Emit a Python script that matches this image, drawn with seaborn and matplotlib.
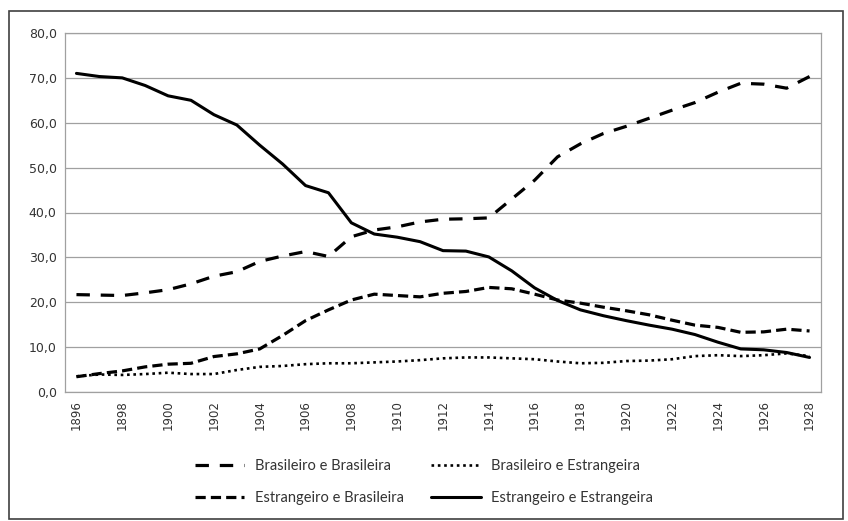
import pandas as pd
import seaborn as sns
import matplotlib.pyplot as plt
from matplotlib.patches import Rectangle

# Years and series values (percent)
years = list(range(1896, 1929))

bras_bras = [21.7, 21.6, 21.5, 22.1, 22.8, 24.1, 25.8, 26.8, 29.1, 30.3, 31.3, 30.2,
             34.6, 36.1, 36.8, 37.9, 38.5, 38.6, 38.8, 43.0, 47.2, 52.4, 55.3, 57.6,
             59.2, 61.0, 62.8, 64.5, 66.8, 68.8, 68.6, 67.7, 70.3]
bras_estr = [3.5, 3.9, 3.8, 4.0, 4.3, 4.0, 4.0, 4.9, 5.6, 5.8, 6.2, 6.4,
             6.4, 6.6, 6.8, 7.1, 7.5, 7.7, 7.7, 7.5, 7.3, 6.8, 6.4, 6.5,
             6.9, 7.0, 7.3, 8.0, 8.2, 8.0, 8.2, 8.6, 8.0]
estr_bras = [3.4, 4.1, 4.7, 5.6, 6.2, 6.4, 7.9, 8.5, 9.6, 12.6, 15.9, 18.3,
             20.5, 21.8, 21.5, 21.2, 22.0, 22.4, 23.3, 23.0, 21.8, 20.5, 19.8, 18.9,
             18.1, 17.2, 16.0, 14.9, 14.4, 13.3, 13.4, 14.0, 13.6]
estr_estr = [71.0, 70.3, 70.0, 68.3, 66.0, 65.0, 61.8, 59.5, 55.0, 50.8, 46.0, 44.4,
             37.7, 35.2, 34.5, 33.5, 31.5, 31.4, 30.1, 27.0, 23.2, 20.4, 18.3, 17.0,
             15.9, 14.9, 14.0, 12.8, 11.1, 9.6, 9.4, 8.8, 7.7]

series = {
    'Brasileiro e Brasileira': bras_bras,
    'Brasileiro e Estrangeira': bras_estr,
    'Estrangeiro e Brasileira': estr_bras,
    'Estrangeiro e Estrangeira': estr_estr,
}
styles = {
    'Brasileiro e Brasileira': dict(lw=2.3, linestyle=(0, (4.2, 3.4))),
    'Brasileiro e Estrangeira': dict(lw=1.9, linestyle=(0, (1.0, 1.4))),
    'Estrangeiro e Brasileira': dict(lw=2.3, linestyle=(0, (3.2, 1.6))),
    'Estrangeiro e Estrangeira': dict(lw=2.2, linestyle='-'),
}

data = pd.DataFrame({'Ano': years, **series})

sns.set_style('white')
plt.rcParams['font.family'] = ['DejaVu Sans']

fig = plt.figure(figsize=(8.48, 5.21), dpi=100)
ax = fig.add_axes([65 / 848, 1 - 392 / 521, 756 / 848, 359 / 521])

lines = {}
for name in series:
    sns.lineplot(x='Ano', y=name, data=data, color='black', ax=ax,
                 label=name, legend=False, **styles[name])
    lines[name] = ax.get_lines()[-1]

ax.set_xlim(1895.5, 1928.5)
ax.set_ylim(0, 80)
ax.set_yticks(range(0, 81, 10))
ax.set_yticklabels([f'{v},0' for v in range(0, 81, 10)], fontsize=9, color='#333333')
ax.set_xticks(years[::2])
ax.set_xticklabels([str(y) for y in years[::2]], rotation=90, fontsize=8.5, color='#333333')
ax.tick_params(axis='both', length=0, pad=6)
ax.set_xlabel('')
ax.set_ylabel('')
ax.grid(axis='y', color='#a0a0a0', lw=0.9)
ax.set_axisbelow(True)
for sp in ax.spines.values():
    sp.set_visible(True)
    sp.set_color('#a0a0a0')
    sp.set_linewidth(0.9)

# outer chart border
fig.patches.append(Rectangle((9 / 848, 2 / 521), 834 / 848, 508 / 521,
                             transform=fig.transFigure, fill=False,
                             edgecolor='#404040', lw=1.2))

order = ['Brasileiro e Brasileira', 'Estrangeiro e Brasileira',
         'Brasileiro e Estrangeira', 'Estrangeiro e Estrangeira']
leg = fig.legend([lines[n] for n in order], order, ncol=2, loc='center',
                 bbox_to_anchor=(424 / 848, 1 - 482 / 521), frameon=False,
                 handlelength=3.4, handletextpad=0.7, columnspacing=1.9,
                 labelspacing=1.2,
                 prop={'family': ['Lato', 'DejaVu Sans'], 'size': 10.5})
for t in leg.get_texts():
    t.set_color('#333333')

plt.savefig('out.png', dpi=100)
